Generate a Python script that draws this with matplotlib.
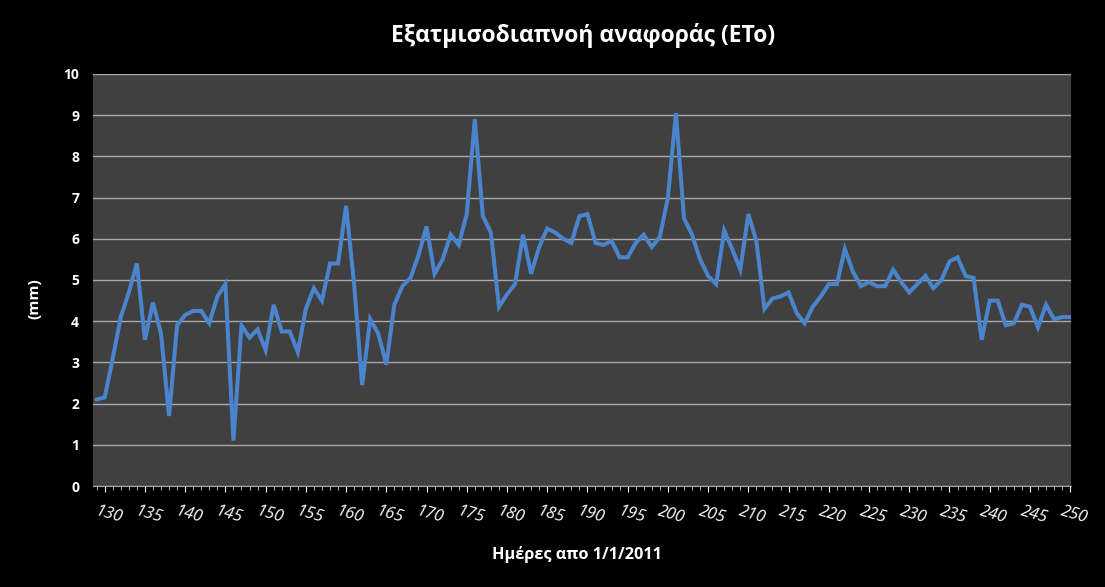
import numpy as np
import matplotlib
matplotlib.use('Agg')
import matplotlib.pyplot as plt
import matplotlib.transforms as mtransforms

# Day of year and reference evapotranspiration (mm)
DAYS = list(range(129, 251))
ETO = [
    2.1, 2.15, 3.1, 4.1, 4.7, 5.4, 3.55, 4.45, 3.7, 1.7,
    3.9, 4.15, 4.25, 4.25, 3.95, 4.6, 4.9, 1.1, 3.9, 3.6,
    3.8, 3.3, 4.4, 3.75, 3.75, 3.25, 4.3, 4.8, 4.5, 5.4,
    5.4, 6.8, 4.9, 2.45, 4.05, 3.7, 2.95, 4.4, 4.85, 5.05,
    5.6, 6.3, 5.15, 5.5, 6.1, 5.85, 6.6, 8.9, 6.55, 6.15,
    4.35, 4.65, 4.9, 6.1, 5.15, 5.8, 6.25, 6.15, 6.0, 5.9,
    6.55, 6.6, 5.9, 5.85, 5.95, 5.55, 5.55, 5.9, 6.1, 5.8,
    6.05, 7.0, 9.05, 6.5, 6.1, 5.5, 5.1, 4.9, 6.2, 5.75,
    5.25, 6.6, 5.95, 4.3, 4.55, 4.6, 4.7, 4.2, 3.95, 4.35,
    4.6, 4.9, 4.9, 5.75, 5.2, 4.85, 4.95, 4.85, 4.85, 5.25,
    4.95, 4.7, 4.9, 5.1, 4.8, 5.0, 5.45, 5.55, 5.1, 5.05,
    3.55, 4.5, 4.5, 3.9, 3.95, 4.4, 4.35, 3.85, 4.4, 4.05,
    4.1, 4.1,
]
X_TICKS = list(range(130, 251, 5))
Y_TICKS = list(range(0, 11))

TITLE = 'Εξατμισοδιαπνοή αναφοράς (ETo)'
XLABEL = 'Ημέρες απο 1/1/2011'
YLABEL = '(mm)'

plt.rcParams['font.family'] = ['Open Sans', 'DejaVu Sans']

fig = plt.figure(figsize=(11.05, 5.87), dpi=100, facecolor='black')
ax = fig.add_axes([0.0842, 0.172, 0.885, 0.702])
ax.set_facecolor('#404040')

ax.plot(DAYS, ETO, color='#4a84cc', linewidth=2.9, solid_joinstyle='miter')

ax.set_xlim(128.55, 250.1)
ax.set_ylim(0, 10)
ax.set_yticks(Y_TICKS)
ax.set_xticks(X_TICKS)
ax.set_xticks(DAYS, minor=True)
ax.grid(axis='y', color='#a8a8a8', linewidth=1.0)
ax.set_axisbelow(True)

for side in ['top', 'right', 'left']:
    ax.spines[side].set_visible(False)
ax.spines['bottom'].set_color('#a8a8a8')

ax.tick_params(axis='y', length=0, colors='white', labelsize=10, pad=10)
ax.tick_params(axis='x', which='major', length=4, colors='white', labelsize=12, pad=11)
ax.tick_params(axis='x', which='minor', length=3, colors='#d0d0d0', width=0.6)
for lbl in ax.get_yticklabels():
    lbl.set_fontweight('bold')
shift = mtransforms.ScaledTranslation(6 / 100, 0, fig.dpi_scale_trans)
for lbl in ax.get_xticklabels():
    lbl.set_rotation(-16)
    lbl.set_rotation_mode('anchor')
    lbl.set_ha('center')
    lbl.set_va('top')
    lbl.set_style('italic')
    lbl.set_transform(lbl.get_transform() + shift)

fig.text(0.528, 0.94, TITLE, color='white', fontsize=16.5, fontweight='bold', ha='center', va='center')
fig.text(0.522, 0.055, XLABEL, color='white', fontsize=11.7, fontweight='bold', ha='center', va='center')
fig.text(0.031, 0.492, YLABEL, color='white', fontsize=11, fontweight='bold', ha='center', va='center', rotation=90)

fig.savefig('out.png', dpi=100, facecolor='black')
